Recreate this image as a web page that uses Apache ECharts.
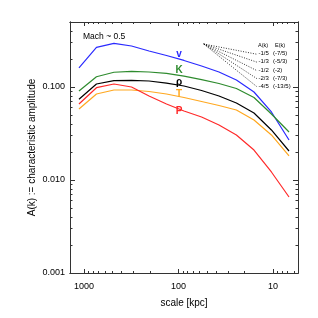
<!DOCTYPE html>
<html><head><meta charset="utf-8">
<script src="https://cdn.jsdelivr.net/npm/echarts@6/dist/echarts.min.js"></script>
<style>html,body{margin:0;padding:0;background:#fff}#c{width:318px;height:318px}</style>
</head><body><div id="c"></div>
<script>
// scale [kpc] of each sample
const scales = [1130, 738, 482, 314, 205, 134, 87.5, 57, 37.3, 24.4, 15.9, 10.4, 6.77];
// characteristic amplitudes
const ampV   = [0.161, 0.267, 0.295, 0.276, 0.244, 0.218, 0.193, 0.168, 0.145, 0.119, 0.0884, 0.0539, 0.0269];
const ampK   = [0.0906, 0.129, 0.144, 0.147, 0.145, 0.140, 0.131, 0.120, 0.109, 0.0964, 0.0771, 0.0513, 0.0328];
const ampRho = [0.0738, 0.1077, 0.117, 0.118, 0.116, 0.110, 0.1025, 0.0917, 0.080, 0.0673, 0.0525, 0.0345, 0.0205];
const ampT   = [0.058, 0.0841, 0.0929, 0.0929, 0.0895, 0.0841, 0.0771, 0.0698, 0.0632, 0.0566, 0.0442, 0.0305, 0.0182];
const ampP   = [0.0656, 0.0983, 0.1077, 0.100, 0.080, 0.0656, 0.0552, 0.0476, 0.039, 0.0305, 0.021, 0.0122, 0.00656];
const seriesNames = ['v', 'K', 'ρ', 'T', 'P'];
// axis ranges & ticks
const xRange = [5.44, 1406];
const yRange = [0.001, 0.5];
const xMajor = [10, 100, 1000];
const xMinor = [6, 7, 8, 9, 20, 30, 40, 50, 60, 70, 80, 90, 200, 300, 400, 500, 600, 700, 800, 900];
const yMajor = [0.001, 0.01, 0.1];
const yMinor = [0.002, 0.003, 0.004, 0.005, 0.006, 0.007, 0.008, 0.009, 0.02, 0.03, 0.04, 0.05, 0.06, 0.07, 0.08, 0.09, 0.2, 0.3, 0.4];
// power-law guide lines (fan)
const guideStart = [54, 0.29];
const guideEndScale = 14.8;
const guideEnds = [0.225, 0.185, 0.150, 0.123, 0.1007];
const slopeLabels = ['-1/5', '-1/3', '-1/2', '-2/3', '-4/5'];
const energyLabels = ['(-7/5)', '(-5/3)', '(-2)', '(-7/3)', '(-13/5)'];

const L = Math.log10;
const FONT = 'Liberation Sans, Arial, Helvetica, sans-serif';
const AX = '#333';
const colors = ['#2a2aff', '#2e8b2e', '#000000', '#ffa820', '#ff2a2a'];
const amps = [ampV, ampK, ampRho, ampT, ampP];

function xAx(pos, ticks, len, labels) {
  return {
    type: 'value', position: pos, min: L(xRange[0]), max: L(xRange[1]), inverse: true,
    axisLine: { show: true, onZero: false, lineStyle: { color: AX, width: 1 } },
    axisTick: { show: true, inside: true, length: len, customValues: ticks.map(L), lineStyle: { color: AX, width: 1 } },
    axisLabel: labels ? { show: true, customValues: xMajor.map(L), formatter: v => String(Math.round(Math.pow(10, v))),
      color: '#000', fontSize: 9, fontFamily: FONT, margin: 9 } : { show: false },
    splitLine: { show: false },
    name: labels ? 'scale [kpc]' : '', nameLocation: 'middle', nameGap: 25, nameMoveOverlap: false,
    nameTextStyle: { color: '#000', fontSize: 10, fontFamily: FONT }
  };
}
function yAx(pos, ticks, len, labels) {
  return {
    type: 'value', position: pos, min: L(yRange[0]), max: L(yRange[1]),
    axisLine: { show: true, onZero: false, lineStyle: { color: AX, width: 1 } },
    axisTick: { show: true, inside: true, length: len, customValues: ticks.map(L), lineStyle: { color: AX, width: 1 } },
    axisLabel: labels ? { show: true, customValues: yMajor.map(L), formatter: v => Math.pow(10, v).toFixed(3),
      color: '#000', fontSize: 9, fontFamily: FONT, margin: 5 } : { show: false },
    splitLine: { show: false },
    name: labels ? 'A(k) := characteristic amplitude' : '', nameLocation: 'middle', nameGap: 33, nameMoveOverlap: false,
    nameTextStyle: { color: '#000', fontSize: 10, fontFamily: FONT }
  };
}

const series = amps.map((a, i) => ({
  type: 'line', name: seriesNames[i], xAxisIndex: 0, yAxisIndex: 0,
  data: scales.map((s, j) => [L(s), L(a[j])]),
  showSymbol: false, symbol: 'none', smooth: false, silent: true,
  lineStyle: { color: colors[i], width: 1.2 }, z: 3
}));
guideEnds.forEach(e => {
  series.push({
    type: 'line', xAxisIndex: 0, yAxisIndex: 0, symbol: 'none', silent: true,
    data: [[L(guideStart[0]), L(guideStart[1])], [L(guideEndScale), L(e)]],
    lineStyle: { color: '#000', width: 0.8, type: [1, 1.5] }, z: 2
  });
});

const graphic = [
  { type: 'text', x: 83, y: 37, style: { text: 'Mach ~ 0.5', fill: '#000', fontSize: 8.5, fontFamily: FONT, align: 'left', verticalAlign: 'middle' } },
  { type: 'text', x: 258, y: 45, style: { text: 'A(k)', fill: '#000', fontSize: 5.5, fontFamily: FONT, align: 'left', verticalAlign: 'middle' } },
  { type: 'text', x: 275, y: 45, style: { text: 'E(k)', fill: '#000', fontSize: 5.5, fontFamily: FONT, align: 'left', verticalAlign: 'middle' } }
];
const labelY = [54, 70.7, 82.7, 94, 111.7];
seriesNames.forEach((n, i) => {
  graphic.push({ type: 'text', x: 179, y: labelY[i], style: { text: n, fill: colors[i], fontSize: 10, fontWeight: 'bold', fontFamily: FONT, align: 'center', verticalAlign: 'middle' } });
});
const rowY = [53.5, 61.8, 70.1, 78.4, 86.7];
slopeLabels.forEach((t, i) => {
  graphic.push({ type: 'text', x: 258.5, y: rowY[i], style: { text: t, fill: '#000', fontSize: 6, fontFamily: FONT, align: 'left', verticalAlign: 'middle' } });
  graphic.push({ type: 'text', x: 273, y: rowY[i], style: { text: energyLabels[i], fill: '#000', fontSize: 6, fontFamily: FONT, align: 'left', verticalAlign: 'middle' } });
});

const chart = echarts.init(document.getElementById('c'), null, { renderer: 'canvas' });
chart.setOption({
  animation: false,
  backgroundColor: '#fff',
  grid: { left: 70, right: 20, top: 22, bottom: 45, containLabel: false },
  xAxis: [xAx('bottom', xMajor, 4, true), xAx('top', xMajor, 4, false), xAx('bottom', xMinor, 2, false), xAx('top', xMinor, 2, false)],
  yAxis: [yAx('left', yMajor, 5, true), yAx('right', yMajor, 5, false), yAx('left', yMinor, 2.5, false), yAx('right', yMinor, 2.5, false)],
  series: series,
  graphic: graphic
});
</script></body></html>
